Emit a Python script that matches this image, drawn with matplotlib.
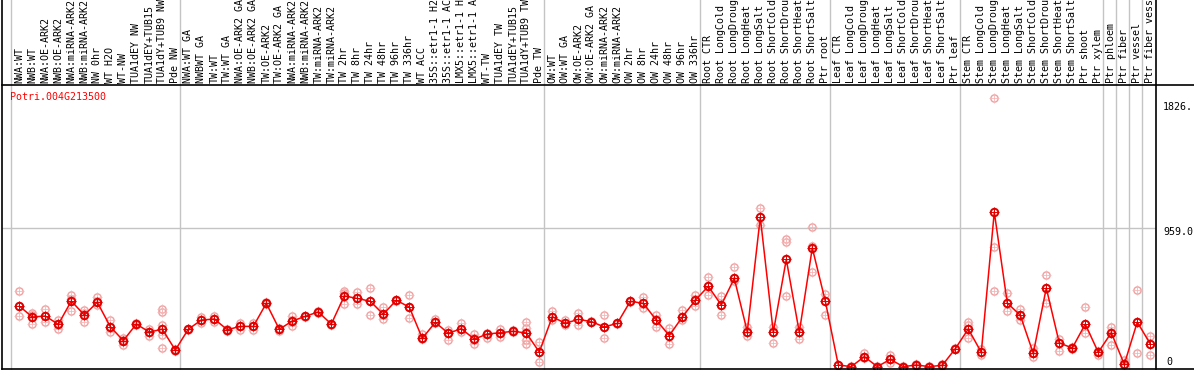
import matplotlib.pyplot as plt
from matplotlib.transforms import blended_transform_factory, offset_copy

gene = "Potri.004G213500"

# sample names as far as they show in the label strip
labels = ["NWA:WT", "NWB:WT", "NWA:OE-ARK2", "NWB:OE-ARK2", "NWA:miRNA-ARK2",
          "NWB:miRNA-ARK2", "NW 0hr", "WT H2O", "WT-NW", "TUA1dEY NW",
          "TUA1dEY+TUB15", "TUA1dY+TUB9 NW", "Pde NW",
          "NWA:WT GA", "NWBWT GA", "TW:WT", "TW:WT GA", "NWA:OE-ARK2 GA",
          "NWB:OE-ARK2 GA", "TW:OE-ARK2", "TW:OE-ARK2 GA", "NWA:miRNA-ARK2",
          "NWB:miRNA-ARK2", "TW:miRNA-ARK2", "TW:miRNA-ARK2", "TW 2hr",
          "TW 8hr", "TW 24hr", "TW 48hr", "TW 96hr", "TW 336hr", "WT ACC",
          "35S::etr1-1 H2", "35S::etr1-1 AC", "LMX5::etr1-1 H",
          "LMX5::etr1-1 A", "WT-TW", "TUA1dEY TW", "TUA1dEY+TUB15",
          "TUA1dY+TUB9 TW", "Pde TW",
          "OW:WT", "OW:WT GA", "OW:OE-ARK2", "OW:OE-ARK2 GA", "OW:miRNA-ARK2",
          "OW:miRNA-ARK2", "OW 2hr", "OW 8hr", "OW 24hr", "OW 48hr",
          "OW 96hr", "OW 336hr",
          "Root CTR", "Root LongCold", "Root LongDroug", "Root LongHeat",
          "Root LongSalt", "Root ShortCold", "Root ShortDrou",
          "Root ShortHeat", "Root ShortSalt", "Ptr root",
          "Leaf CTR", "Leaf LongCold", "Leaf LongDroug", "Leaf LongHeat",
          "Leaf LongSalt", "Leaf ShortCold", "Leaf ShortDrou",
          "Leaf ShortHeat", "Leaf ShortSalt", "Ptr leaf",
          "Stem CTR", "Stem LongCold", "Stem LongDroug", "Stem LongHeat",
          "Stem LongSalt", "Stem ShortCold", "Stem ShortDrou",
          "Stem ShortHeat", "Stem ShortSalt", "Ptr shoot", "Ptr xylem",
          "Ptr phloem", "Ptr fiber", "Ptr vessel", "Ptr fiber vess"]

means = [420, 344, 351, 293, 455, 358, 446, 277, 180, 295, 240, 259, 115,
         259, 323, 330, 256, 279, 279, 439, 259, 316, 349, 379, 295, 490, 473,
         453, 363, 460, 413, 196, 307, 231, 263, 191, 226, 235, 245, 233, 101,
         346, 300, 328, 312, 275, 300, 453, 439, 323, 215, 344, 460,
         557, 427, 612, 242, 1036, 238, 744, 238, 823, 455,
         11, 0, 69, 0, 50, 0, 11, 0, 9, 124,
         261, 99, 1072, 441, 356, 92, 545, 164, 129, 295, 99,
         235, 16, 309, 157]

reps = [[522, 353, 420], [374, 295, 360], [397, 311, 351], [323, 259, 293],
        [494, 383, 470], [390, 307, 370], [485, 425, 446], [323, 242, 277],
        [201, 150, 185], [305, 290, 295], [263, 210, 240],
        [400, 380, 289, 221, 127], [115, 110, 120],
        [259, 255, 262], [345, 300, 323], [352, 307, 330], [256, 250, 260],
        [301, 256, 279], [301, 256, 279], [445, 432, 439], [270, 248, 259],
        [351, 282, 316], [349, 345, 352], [385, 375, 379], [295, 292, 298],
        [527, 509, 432], [520, 432, 473], [547, 358, 453], [415, 332, 363],
        [460, 458, 462], [497, 335, 413], [224, 196, 190], [328, 307, 300],
        [254, 184, 231], [305, 242, 263], [224, 157, 191], [235, 196, 226],
        [259, 207, 235], [256, 245, 240], [307, 270, 233, 184, 157],
        [171, 32, 101],
        [388, 323, 346], [323, 289, 300], [374, 286, 328], [312, 308, 316],
        [358, 196, 275], [300, 296, 304], [453, 450, 456], [485, 409, 439],
        [358, 277, 323], [268, 157, 215], [393, 323, 344], [497, 420, 460],
        [619, 499, 557], [490, 360, 427], [689, 592, 612], [277, 215, 242],
        [1100, 982, 1036], [277, 166, 238], [885, 866, 488], [277, 194, 238],
        [966, 837, 654], [504, 360, 455],
        [11, 8, 14], [0, 2, 0], [92, 69, 60], [0, 3, 0], [80, 23, 50],
        [0, 2, 0], [20, 11, 5], [0, 2, 0], [18, 9, 3], [124, 120, 128],
        [307, 290, 198], [120, 80, 99], [1861, 827, 524], [508, 383, 441],
        [402, 323, 356], [127, 64, 92], [635, 443, 545], [189, 106, 164],
        [138, 129, 125], [411, 233, 295], [110, 78, 99],
        [273, 148, 240], [46, 10, 16], [529, 92, 309], [212, 78, 157]]

group_starts = [0, 13, 41, 53, 63, 73, 84, 85, 86, 87]
ytick_vals = [1826.0, 959.0, 0]
ytick_text = ["1826.", "959.0", "0"]

W, H = 1194, 370
mono = "DejaVu Sans Mono"

fig = plt.figure(figsize=(W / 100, H / 100), dpi=100)
ax = fig.add_axes([2 / W, 1 - 369 / H, 1154 / W, 284 / H])
ax.set_xlim(-1.331, 87.44)
ax.set_ylim(-16.6, 1953.1)
ax.axis("off")

xfig = blended_transform_factory(ax.transData, fig.transFigure)
yfig = blended_transform_factory(fig.transFigure, ax.transData)
figt = fig.transFigure

# group separators run up through the label area
for g in group_starts:
    ax.plot([g - 0.615, g - 0.615], [0, 1], transform=xfig, color="#c4c4c4",
            lw=1.0, clip_on=False, zorder=1)
ax.axhline(959.0, color="#c4c4c4", lw=1.0, zorder=1)

# frame lines
for x in [2, 1156]:
    fig.add_artist(plt.Line2D([x / W, x / W], [1 - 369 / H, 1], transform=figt,
                              color="black", lw=1.2))
for y in [85, 368.5]:
    fig.add_artist(plt.Line2D([2 / W, 1], [1 - y / H, 1 - y / H], transform=figt,
                              color="black", lw=1.2))

# replicate points
for i, r in enumerate(reps):
    ax.plot([i] * len(r), r, ls="none", marker="o", ms=5.2, mfc="none",
            mec="#f0a0a0", mew=1.0, zorder=2, clip_on=False)
    ax.plot([i] * len(r), r, ls="none", marker="+", ms=7.0,
            mec="#f4b8b8", mew=0.6, zorder=2, clip_on=False)

x = list(range(len(means)))
ax.plot(x, means, color="#ff0000", lw=1.1, zorder=3)
ax.plot(x, means, ls="none", marker="+", ms=7.0, mec="#e00000", mew=0.7,
        zorder=4, clip_on=False)
ax.plot(x, means, ls="none", marker="o", ms=5.4, mfc="none", mec="#e00000",
        mew=1.4, zorder=4, clip_on=False)

for i, lab in enumerate(labels):
    ax.text(i, 1 - 83 / H, lab, transform=xfig, rotation=90, ha="center",
            va="bottom", fontsize=7.2, family=mono, color="black")

ax.text(10 / W, 1 - 97 / H, gene, transform=figt, color="red", fontsize=7.2,
        family=mono, va="center", ha="left")

# value labels right of the frame, hung a few pixels below their level
ylab_t = offset_copy(yfig, fig=fig, x=0, y=-4, units="dots")
for v, txt in zip(ytick_vals, ytick_text):
    if v == 0:
        fig.text(1166 / W, 1 - 361.7 / H, txt, color="black", fontsize=7.2,
                 family=mono, va="center", ha="left")
    else:
        ax.text(1163 / W, v, txt, transform=ylab_t, color="black", fontsize=7.2,
                family=mono, va="center", ha="left", clip_on=False)

fig.savefig("out.png", dpi=100)
